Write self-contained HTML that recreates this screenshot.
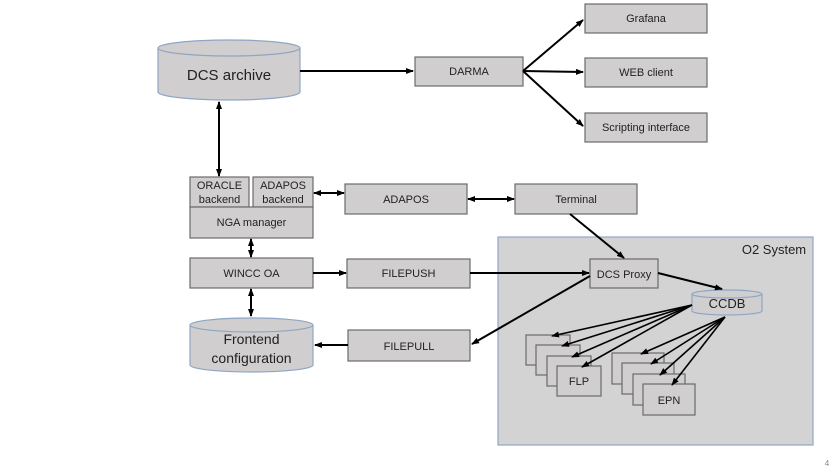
<!DOCTYPE html>
<html><head><meta charset="utf-8"><style>
body{margin:0;background:#fff}
svg{display:block;font-family:"Liberation Sans",sans-serif}
</style></head><body>
<svg width="837" height="471" viewBox="0 0 837 471" xmlns="http://www.w3.org/2000/svg">
<defs>
<marker id="a" markerWidth="8" markerHeight="8" refX="7" refY="4" orient="auto-start-reverse" markerUnits="userSpaceOnUse">
<path d="M0,1 L8,4 L0,7 z" fill="#000"/></marker>
</defs>
<g fill="#d0cece" stroke="#6b6b6b" stroke-width="1.2">
<!-- O2 system -->
<rect x="498" y="237" width="315" height="208" fill="#d3d3d3" stroke="#8ea6c4"/>
<rect x="415" y="57" width="108" height="29"/>
<rect x="585" y="4" width="122" height="29"/>
<rect x="585" y="58" width="122" height="29"/>
<rect x="585" y="113" width="122" height="29"/>
<rect x="190" y="177" width="59" height="30"/>
<rect x="253" y="177" width="60" height="30"/>
<rect x="190" y="207" width="123" height="31"/>
<rect x="345" y="184" width="122" height="30"/>
<rect x="515" y="184" width="122" height="30"/>
<rect x="190" y="258" width="123" height="30"/>
<rect x="347" y="259" width="123" height="29"/>
<rect x="348" y="330" width="122" height="31"/>
<rect x="590" y="259" width="68" height="29"/>
<rect x="526" y="335" width="44" height="30"/>
<rect x="536" y="345" width="44" height="30"/>
<rect x="547" y="356" width="44" height="30"/>
<rect x="557" y="366" width="44" height="30"/>
<rect x="612" y="353" width="52" height="31"/>
<rect x="622" y="363" width="52" height="31"/>
<rect x="633" y="374" width="52" height="31"/>
<rect x="643" y="384" width="52" height="31"/>
</g>
<!-- cylinders -->
<g fill="#d0cece" stroke="#8ea6c4" stroke-width="1.2">
<path d="M158,48 V92 A71,8 0 0 0 300,92 V48"/>
<ellipse cx="229" cy="48" rx="71" ry="8"/>
<path d="M190,325 V365 A61.5,7 0 0 0 313,365 V325"/>
<ellipse cx="251.5" cy="325" rx="61.5" ry="7"/>
<path d="M692,294 V311 A35,4 0 0 0 762,311 V294"/>
<ellipse cx="727" cy="294" rx="35" ry="4"/>
</g>
<g stroke="#000" stroke-width="2" fill="none">
<line x1="300" y1="71" x2="413" y2="71" marker-end="url(#a)"/>
<line x1="523" y1="71" x2="583" y2="20" marker-end="url(#a)"/>
<line x1="523" y1="71" x2="583" y2="72" marker-end="url(#a)"/>
<line x1="523" y1="71" x2="583" y2="126" marker-end="url(#a)"/>
<line x1="219" y1="102" x2="219" y2="176" marker-start="url(#a)" marker-end="url(#a)"/>
<line x1="314" y1="193" x2="344" y2="193" marker-start="url(#a)" marker-end="url(#a)"/>
<line x1="468" y1="199" x2="514" y2="199" marker-start="url(#a)" marker-end="url(#a)"/>
<line x1="570" y1="214" x2="624" y2="258" marker-end="url(#a)"/>
<line x1="251" y1="239" x2="251" y2="257" marker-start="url(#a)" marker-end="url(#a)"/>
<line x1="313" y1="273" x2="346" y2="273" marker-end="url(#a)"/>
<line x1="470" y1="273" x2="589" y2="273" marker-end="url(#a)"/>
<line x1="251" y1="289" x2="251" y2="316" marker-start="url(#a)" marker-end="url(#a)"/>
<line x1="590" y1="276" x2="472" y2="344" marker-end="url(#a)"/>
<line x1="348" y1="345" x2="315" y2="345" marker-end="url(#a)"/>
<line x1="658" y1="273" x2="722" y2="289" marker-end="url(#a)"/>
</g>
<g stroke="#000" stroke-width="1.6" fill="none">
<line x1="692" y1="305" x2="552" y2="336" marker-end="url(#a)"/>
<line x1="692" y1="305" x2="562" y2="346" marker-end="url(#a)"/>
<line x1="692" y1="305" x2="572" y2="357" marker-end="url(#a)"/>
<line x1="692" y1="305" x2="582" y2="367" marker-end="url(#a)"/>
<line x1="725" y1="317" x2="641" y2="354" marker-end="url(#a)"/>
<line x1="725" y1="317" x2="651" y2="364" marker-end="url(#a)"/>
<line x1="725" y1="317" x2="660" y2="375" marker-end="url(#a)"/>
<line x1="725" y1="317" x2="672" y2="385" marker-end="url(#a)"/>
</g>
<g font-size="11" fill="#222" text-anchor="middle">
<text x="229" y="80" font-size="15">DCS archive</text>
<text x="469" y="75">DARMA</text>
<text x="646" y="22">Grafana</text>
<text x="646" y="76">WEB client</text>
<text x="646" y="131">Scripting interface</text>
<text x="219.5" y="189">ORACLE</text>
<text x="219.5" y="203">backend</text>
<text x="283" y="189">ADAPOS</text>
<text x="283" y="203">backend</text>
<text x="251.5" y="226">NGA manager</text>
<text x="406" y="203">ADAPOS</text>
<text x="576" y="203">Terminal</text>
<text x="251.5" y="277">WINCC OA</text>
<text x="408.5" y="277">FILEPUSH</text>
<text x="409" y="350">FILEPULL</text>
<text x="251.5" y="344" font-size="14">Frontend</text>
<text x="251.5" y="363" font-size="14">configuration</text>
<text x="624" y="278">DCS Proxy</text>
<text x="727" y="308" font-size="13">CCDB</text>
<text x="579" y="385">FLP</text>
<text x="669" y="404">EPN</text>
<text x="774" y="254" font-size="13">O2 System</text>
<text x="827" y="466" font-size="8" fill="#888">4</text>
</g>
</svg>
</body></html>
